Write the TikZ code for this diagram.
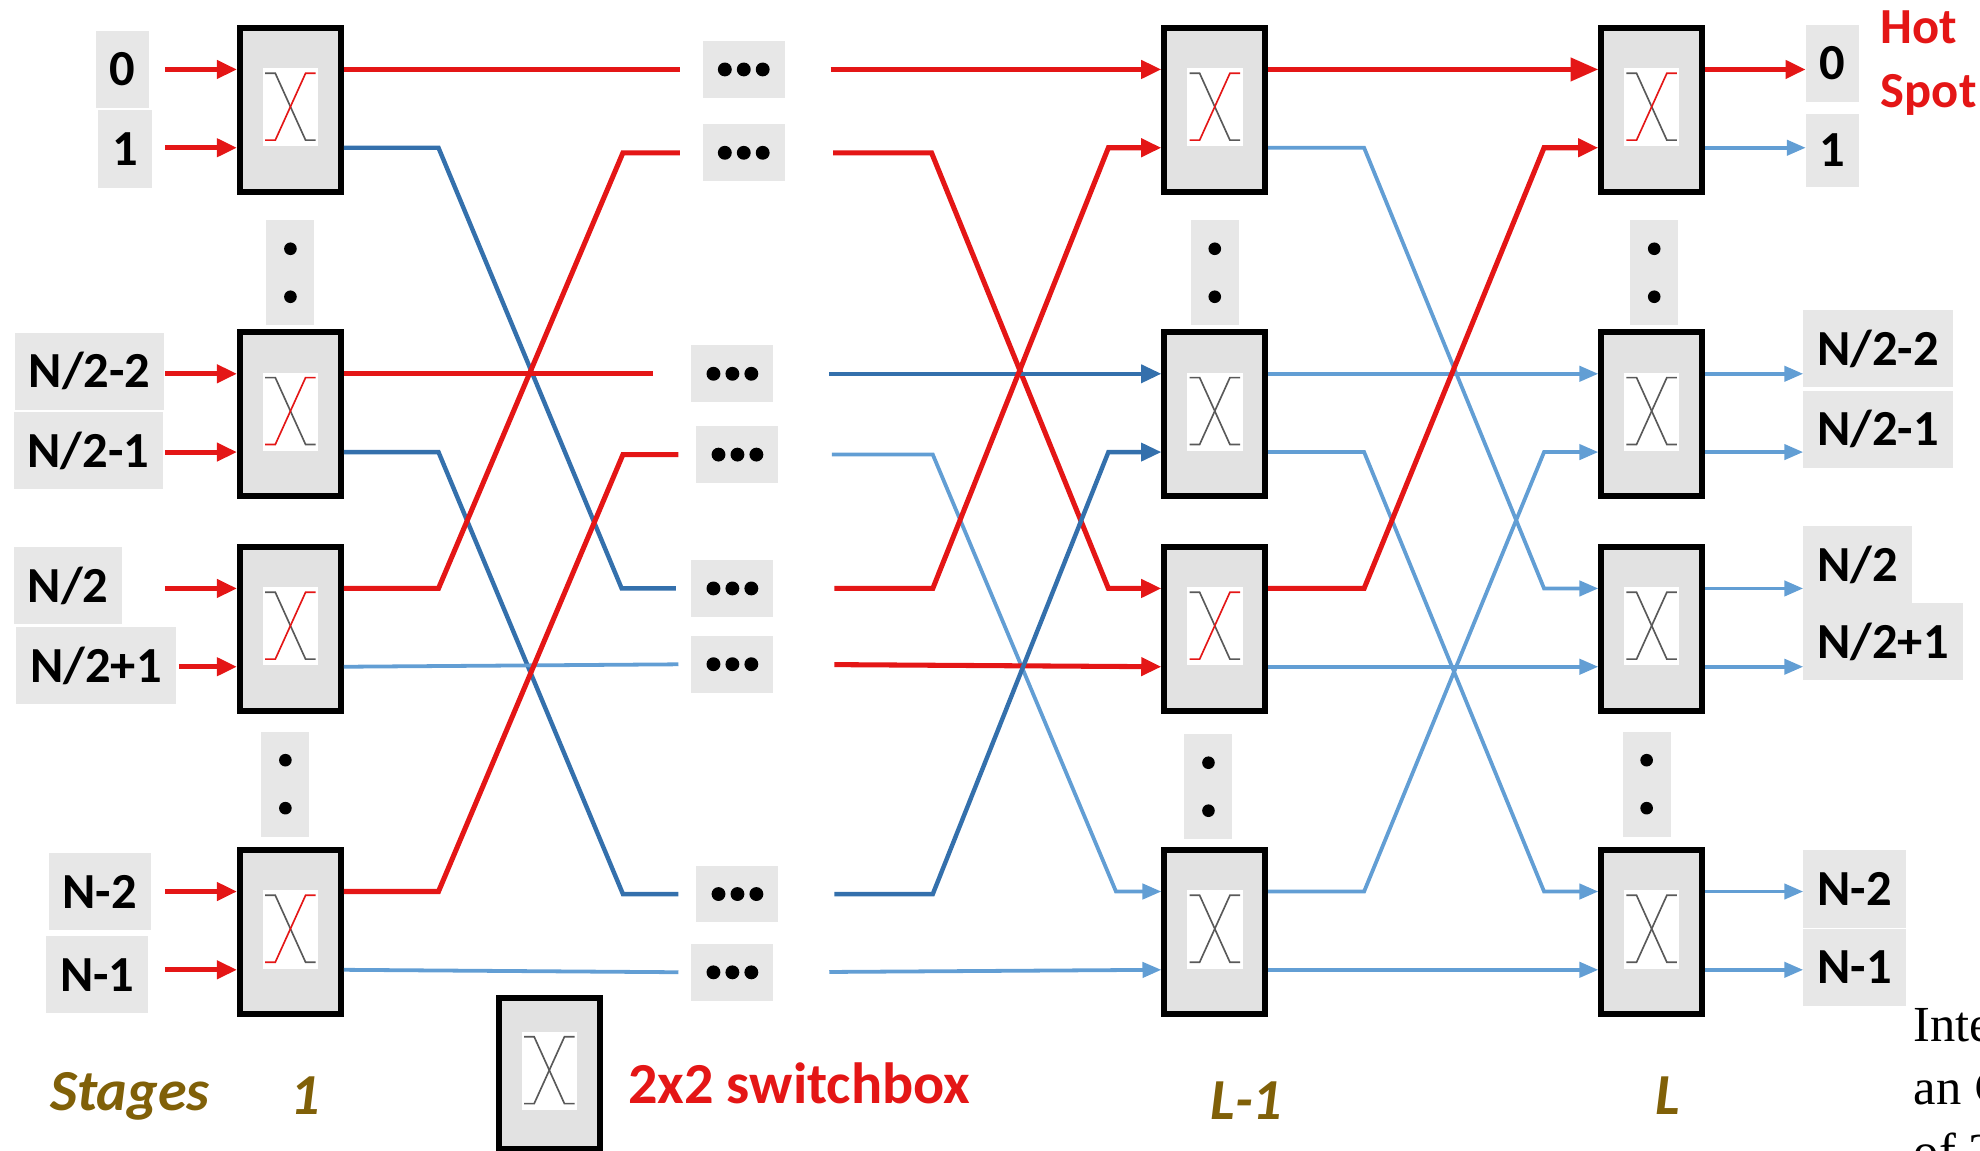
\documentclass[tikz,border=0pt]{standalone}
\usepackage{fontspec}
\setmainfont{Carlito}
\newfontfamily\capfont{Liberation Serif}
\usetikzlibrary{arrows.meta}

\definecolor{hotred}{RGB}{228,22,22}
\definecolor{darkblue}{RGB}{52,112,172}
\definecolor{lightblue}{RGB}{98,158,212}
\definecolor{boxgrey}{RGB}{226,226,226}
\definecolor{lblgrey}{RGB}{231,231,231}
\definecolor{stagegold}{RGB}{128,96,8}

\tikzset{
    switch/.style={rectangle, draw, line width=4.5pt, fill=boxgrey, minimum width=80pt, minimum height=130pt, inner sep=0pt},
    lbl/.style={fill=lblgrey, font=\fontsize{40}{44}\selectfont\bfseries, inner xsep=11pt, minimum height=61pt},
    dotrow/.style={fill=lblgrey, minimum width=65pt, minimum height=45pt, inner sep=0pt,
        path picture={\foreach \dx in {-15,0,15} \fill[black] ([xshift=\dx pt]path picture bounding box.center) circle (5.5pt);}},
    dotcol/.style={fill=lblgrey, minimum width=38pt, minimum height=83pt, inner sep=0pt,
        path picture={\foreach \dy in {-19,19} \fill[black] ([yshift=\dy pt]path picture bounding box.center) circle (5pt);}},
    redline/.style={draw=hotred, line width=4pt},
    dblue/.style={draw=darkblue, line width=3.5pt},
    lblue/.style={draw=lightblue, line width=3pt},
    tip/.style={-{Triangle[length=16pt,width=14pt]}},
    btip/.style={-{Triangle[length=15pt,width=12pt]}},
    glyph/.style={draw=black!65, line width=1.3pt},
    stagelbl/.style={text=stagegold, font=\fontsize{46}{50}\selectfont\bfseries\itshape}
}

% the crossed wires drawn inside a switchbox
\newcommand{\swglyph}[2]{%
    \fill[white] ([shift={(-22,-33)}]#1.center) rectangle ([shift={(22,29)}]#1.center);
    \draw[glyph] ([shift={(-20,-29)}]#1.center) -- ++(8,0) -- ([shift={(12,24)}]#1.center) -- ++(8,0);
    \draw[glyph,#2] ([shift={(20,-29)}]#1.center) -- ++(-8,0) -- ([shift={(-12,24)}]#1.center) -- ++(-8,0);
}

\begin{document}
\begin{tikzpicture}[x=1pt,y=-1pt]
    \useasboundingbox (0,0) rectangle (1568,911);

    % switchboxes of stages 1, L-1 and L
    \path node[switch] (s1a) at (230,87) {}
        node[switch] (s1b) at (230,328) {}
        node[switch] (s1c) at (230,498) {}
        node[switch] (s1d) at (230,738) {}
        node[switch] (sPa) at (962,87) {}
        node[switch] (sPb) at (962,328) {}
        node[switch] (sPc) at (962,498) {}
        node[switch] (sPd) at (962,738) {}
        node[switch] (sLa) at (1308,87) {}
        node[switch] (sLb) at (1308,328) {}
        node[switch] (sLc) at (1308,498) {}
        node[switch] (sLd) at (1308,738) {}
        node[switch, minimum height=119pt] (sKey) at (435,850) {};

    \foreach \n in {s1a,s1b,s1c,s1d,sPa,sPb,sPc,sPd,sLa,sLb,sLc,sLd} {
        \coordinate (\n-it) at ([yshift=32pt]\n.west);
        \coordinate (\n-ib) at ([yshift=-30pt]\n.west);
        \coordinate (\n-ot) at ([yshift=32pt]\n.east);
        \coordinate (\n-ob) at ([yshift=-30pt]\n.east);
    }

    \foreach \n/\c in {s1a/hotred,s1b/hotred,s1c/hotred,s1d/hotred,sPa/hotred,sPb/black!65,sPc/hotred,sPd/black!65,sLa/hotred,sLb/black!65,sLc/black!65,sLd/black!65,sKey/black!65} {
        \swglyph{\n}{draw=\c}
    }

    % vertical dots
    \path node[dotcol] (vd1) at (230,216) {}
        node[dotcol] (vd2) at (226,621) {}
        node[dotcol] (vd3) at (962,216) {}
        node[dotcol] (vd4) at (957,623) {}
        node[dotcol] (vd5) at (1310,216) {}
        node[dotcol] (vd6) at (1304,621) {};

    % skipped stages
    \path node[dotrow] (dt1) at (589,55) {}
        node[dotrow] (dt2) at (589,121) {}
        node[dotrow] (dt3) at (580,296) {}
        node[dotrow] (dt4) at (584,360) {}
        node[dotrow] (dt5) at (580,466) {}
        node[dotrow] (dt6) at (580,526) {}
        node[dotrow] (dt7) at (584,708) {}
        node[dotrow] (dt8) at (580,770) {};

    % inputs
    \path node[lbl] (in0) at (97,55) {0}
        node[lbl] (in1) at (99,118) {1}
        node[lbl] (in2) at (71,294) {N/2-2}
        node[lbl] (in3) at (70,357) {N/2-1}
        node[lbl] (in4) at (54,464) {N/2}
        node[lbl] (in5) at (76,527) {N/2+1}
        node[lbl] (in6) at (79,706) {N-2}
        node[lbl] (in7) at (77,772) {N-1};
    \foreach \b/\l in {a/57,b/57,c/57,d/57} {
        \draw[redline,tip] ([xshift=-\l pt]s1\b-it) -- (s1\b-it);
    }
    \foreach \b/\l in {a/57,b/57,c/46,d/57} {
        \draw[redline,tip] ([xshift=-\l pt]s1\b-ib) -- (s1\b-ib);
    }

    % outputs
    \path node[lbl, anchor=west] (out0) at (1430,50) {0}
        node[lbl, anchor=west, minimum height=58pt] (out1) at (1430,119) {1}
        node[lbl, anchor=west] (out2) at (1428,276) {N/2-2}
        node[lbl, anchor=west] (out3) at (1428,340) {N/2-1}
        node[lbl, anchor=west] (out4) at (1428,447) {N/2}
        node[lbl, anchor=west] (out5) at (1428,508) {N/2+1}
        node[lbl, anchor=west] (out6) at (1428,704) {N-2}
        node[lbl, anchor=west] (out7) at (1428,766) {N-1};

    % stage 1 to the skipped stages
    \draw[redline, shorten >=18pt] (s1a-ot) -- (dt1.west);
    \draw[dblue, shorten >=12pt] (s1a-ob) -- ++(75,0) -- ([xshift=-55pt]dt5.west) -- (dt5.west);
    \draw[redline, shorten >=30pt] (s1b-ot) -- (dt3.west);
    \draw[dblue, shorten >=14pt] (s1b-ob) -- ++(75,0) -- ([xshift=-58pt]dt7.west) -- (dt7.west);
    \draw[redline, shorten >=18pt] (s1c-ot) -- ++(75,0) -- ([xshift=-63pt]dt2.west) -- (dt2.west);
    \draw[lblue, shorten >=10pt] (s1c-ob) -- (dt6.west);
    \draw[redline, shorten >=14pt] (s1d-ot) -- ++(75,0) -- ([xshift=-58pt]dt4.west) -- (dt4.west);
    \draw[lblue, shorten >=10pt] (s1d-ob) -- (dt8.west);

    % skipped stages to stage L-1
    \draw[redline, tip, shorten <=36pt] (dt1.east) -- (sPa-it);
    \draw[redline, tip, shorten <=38pt] (dt2.east) -- ++(116,0) -- ([xshift=-42pt]sPc-it) -- (sPc-it);
    \draw[dblue, tip, shorten <=44pt] (dt3.east) -- (sPb-it);
    \draw[lblue, btip, shorten <=42pt] (dt4.east) -- ++(122,0) -- ([xshift=-36pt]sPd-it) -- (sPd-it);
    \draw[redline, tip, shorten <=48pt] (dt5.east) -- ++(126,0) -- ([xshift=-42pt]sPa-ib) -- (sPa-ib);
    \draw[redline, tip, shorten <=48pt] (dt6.east) -- (sPc-ib);
    \draw[dblue, tip, shorten <=44pt] (dt7.east) -- ++(122,0) -- ([xshift=-42pt]sPb-ib) -- (sPb-ib);
    \draw[lblue, btip, shorten <=44pt] (dt8.east) -- (sPd-ib);

    % stage L-1 to stage L
    \draw[redline, -{Triangle[length=22pt,width=18pt]}] (sPa-ot) -- (sLa-it);
    \draw[lblue, btip] (sPa-ob) -- ++(76,0) -- ([xshift=-43pt]sLc-it) -- (sLc-it);
    \draw[lblue, btip] (sPb-ot) -- (sLb-it);
    \draw[lblue, btip] (sPb-ob) -- ++(76,0) -- ([xshift=-43pt]sLd-it) -- (sLd-it);
    \draw[redline, tip] (sPc-ot) -- ++(76,0) -- ([xshift=-43pt]sLa-ib) -- (sLa-ib);
    \draw[lblue, btip] (sPc-ob) -- (sLc-ib);
    \draw[lblue, btip] (sPd-ot) -- ++(76,0) -- ([xshift=-43pt]sLb-ib) -- (sLb-ib);
    \draw[lblue, btip] (sPd-ob) -- (sLd-ib);

    % stage L to the outputs
    \draw[redline, tip] (sLa-ot) -- (sLa-ot -| out0.west);
    \draw[lblue, btip] (sLa-ob) -- (sLa-ob -| out1.west);
    \draw[lblue, btip] (sLb-ot) -- (sLb-ot -| out2.west);
    \draw[lblue, btip] (sLb-ob) -- (sLb-ob -| out3.west);
    \draw[lblue, btip] (sLc-ot) -- (sLc-ot -| out4.west);
    \draw[lblue, btip] (sLc-ob) -- (sLc-ob -| out5.west);
    \draw[lblue, btip] (sLd-ot) -- (sLd-ot -| out6.west);
    \draw[lblue, btip] (sLd-ob) -- (sLd-ob -| out7.west);

    \node[anchor=west, align=left, text=hotred, font=\fontsize{40}{50}\selectfont\bfseries] (hot) at (1486,50) {Hot\\Spot};

    % stages and key
    \path node[stagelbl] (stg) at (103,868) {Stages}
        node[stagelbl] (stg1) at (242,868) {1}
        node[stagelbl] (stgP) at (987,872) {L-1}
        node[stagelbl] (stgL) at (1321,868) {L};
    \node[anchor=west, text=hotred, font=\fontsize{46}{50}\selectfont\bfseries] (key) at (494,858) {2x2 switchbox};

    % caption text cut off at the edge
    \path node[anchor=base west, font=\capfont\fontsize{40}{44}\selectfont] (cap1) at (1512,825) {Inte}
        node[anchor=base west, font=\capfont\fontsize{40}{44}\selectfont] (cap2) at (1512,875) {an \textbf{C}}
        node[anchor=base west, font=\capfont\fontsize{40}{44}\selectfont] (cap3) at (1512,925) {of 2};
\end{tikzpicture}
\end{document}
